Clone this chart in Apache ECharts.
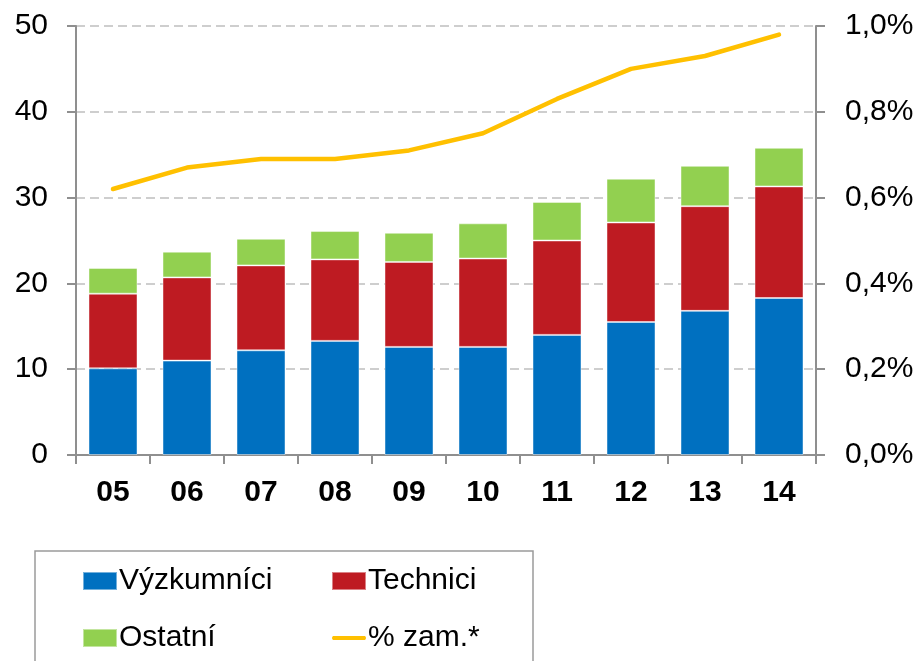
<!DOCTYPE html>
<html>
<head>
<meta charset="utf-8">
<script src="https://cdn.jsdelivr.net/npm/echarts@6/dist/echarts.min.js"></script>
<style>
html,body{margin:0;padding:0;background:#fff;}
#main{width:920px;height:661px;}
</style>
</head>
<body>
<div id="main"></div>
<script>
var years = ['05','06','07','08','09','10','11','12','13','14'];
var vyzkumnici = [10.1, 11.0, 12.2, 13.3, 12.6, 12.6, 14.0, 15.5, 16.8, 18.3];
var technici = [8.7, 9.7, 9.9, 9.5, 9.9, 10.3, 11.0, 11.6, 12.2, 13.0];
var ostatni = [3.0, 3.0, 3.1, 3.3, 3.4, 4.1, 4.5, 5.1, 4.7, 4.5];
var zam = [0.62, 0.67, 0.69, 0.69, 0.71, 0.75, 0.83, 0.90, 0.93, 0.98];
var leftTicks = [0, 50, 10];
var rightTicks = [0, 1.0, 0.2];

var chart = echarts.init(document.getElementById('main'));
var axisGrey = '#8f8f8f';
var font = '"Liberation Sans", Arial, sans-serif';
// thin horizontal bar inside a 34x18 box, used as the line legend icon
var lineIcon = 'path://M0,0L0,0M1,7L33,7Q35,9 33,11L1,11Q-1,9 1,7ZM34,18L34,18';

var legendText = { fontFamily: font, fontSize: 30, color: '#000', lineHeight: 30, padding: [2, 0, 0, -3] };

option = {
    animation: false,
    textStyle: { fontFamily: font },
    grid: { left: 76, right: 104, top: 26, bottom: 206, containLabel: false },
    legend: [
        {
            orient: 'vertical',
            left: 82, top: 565, padding: 0,
            itemWidth: 34, itemHeight: 18,
            itemGap: 25,
            textStyle: legendText,
            data: [{ name: 'Výzkumníci', icon: 'rect' }, { name: 'Ostatní', icon: 'rect' }]
        },
        {
            orient: 'vertical',
            left: 331, top: 565, padding: 0,
            itemWidth: 34, itemHeight: 18,
            itemGap: 25,
            textStyle: legendText,
            data: [{ name: 'Technici', icon: 'rect' }, { name: '% zam.*', icon: lineIcon }]
        }
    ],
    graphic: [{
        type: 'rect',
        shape: { x: 35, y: 551, width: 498, height: 130 },
        style: { fill: 'none', stroke: '#9a9a9a', lineWidth: 1.5 },
        silent: true
    }],
    xAxis: {
        type: 'category',
        data: years,
        axisLine: { lineStyle: { color: axisGrey, width: 2 } },
        axisTick: { show: true, length: 9, lineStyle: { color: axisGrey, width: 2 } },
        axisLabel: { margin: 23, fontSize: 30, fontWeight: 'bold', color: '#000' }
    },
    yAxis: [
        {
            type: 'value',
            min: leftTicks[0], max: leftTicks[1], interval: leftTicks[2],
            axisLine: { show: true, lineStyle: { color: axisGrey, width: 2 } },
            axisTick: { show: true, length: 9, lineStyle: { color: axisGrey, width: 2 } },
            axisLabel: { margin: 28, fontSize: 30, color: '#000' },
            splitLine: { show: true, lineStyle: { color: '#bfbfbf', width: 1.5, type: [9, 5] } }
        },
        {
            type: 'value',
            min: rightTicks[0], max: rightTicks[1], interval: rightTicks[2],
            axisLine: { show: true, lineStyle: { color: axisGrey, width: 2 } },
            axisTick: { show: true, length: 9, lineStyle: { color: axisGrey, width: 2 } },
            axisLabel: {
                margin: 29, fontSize: 30, color: '#000',
                formatter: function (v) { return v.toFixed(1).replace('.', ',') + '%'; }
            },
            splitLine: { show: false }
        }
    ],
    series: [
        {
            name: 'Výzkumníci', type: 'bar', stack: 'a', barWidth: 49,
            itemStyle: { color: '#0070c0', borderColor: 'rgba(255,255,255,0.45)', borderWidth: 1 },
            data: vyzkumnici
        },
        {
            name: 'Technici', type: 'bar', stack: 'a', barWidth: 49,
            itemStyle: { color: '#be1b22', borderColor: 'rgba(255,255,255,0.45)', borderWidth: 1 },
            data: technici
        },
        {
            name: 'Ostatní', type: 'bar', stack: 'a', barWidth: 49,
            itemStyle: { color: '#92d050', borderColor: 'rgba(255,255,255,0.45)', borderWidth: 1 },
            data: ostatni
        },
        {
            name: '% zam.*', type: 'line', yAxisIndex: 1,
            symbol: 'none',
            lineStyle: { color: '#ffc000', width: 4.5, cap: 'round', join: 'round' },
            itemStyle: { color: '#ffc000' },
            data: zam
        }
    ]
};

chart.setOption(option);
</script>
</body>
</html>
